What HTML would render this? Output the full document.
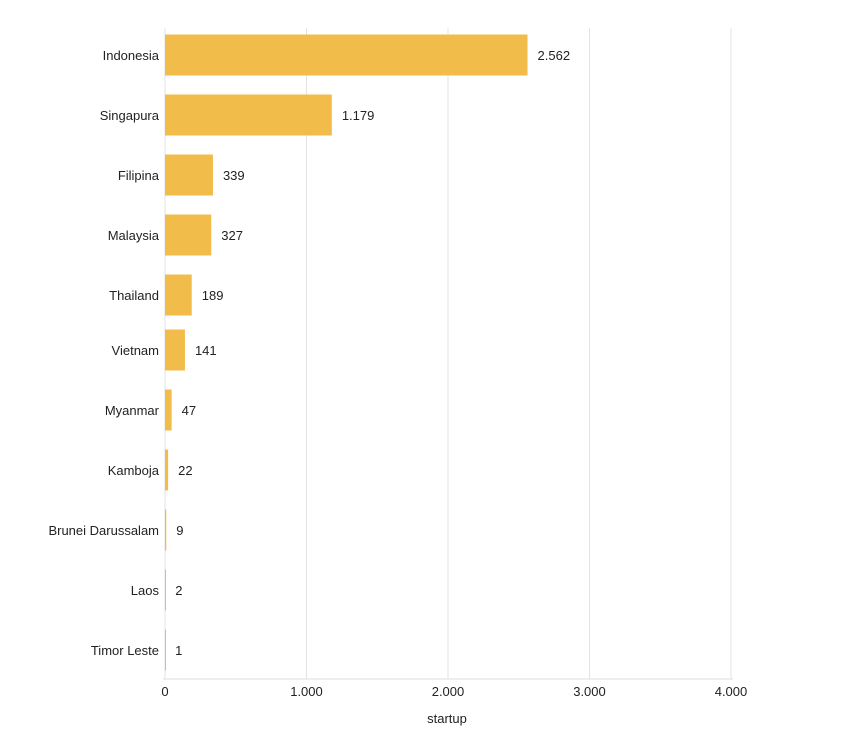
<!DOCTYPE html>
<html><head><meta charset="utf-8"><style>
body{margin:0;background:#fff;}
svg{display:block;font-family:"Liberation Sans",sans-serif;}
</style></head><body>
<svg id="chart" width="849" height="741" viewBox="0 0 849 741"></svg>
<script>
const categories=["Indonesia","Singapura","Filipina","Malaysia","Thailand","Vietnam","Myanmar","Kamboja","Brunei Darussalam","Laos","Timor Leste"];
const values=[2562,1179,339,327,189,141,47,22,9,2,1];
const valueLabels=["2.562","1.179","339","327","189","141","47","22","9","2","1"];
const ticks=[0,1000,2000,3000,4000];
const tickLabels=["0","1.000","2.000","3.000","4.000"];
const NS="http://www.w3.org/2000/svg";
const svg=document.getElementById('chart');
const x0=165,x1=731;
const xs=v=>x0+(v/4000)*(x1-x0);
const yc=i=>55+60*i-(i>=5?5:0);
function mk(t,a){const e=document.createElementNS(NS,t);for(const k in a)e.setAttribute(k,a[k]);svg.appendChild(e);return e;}
ticks.forEach((t,i)=>{
  const g=mk('line',{x1:xs(t),x2:xs(t),y1:28,y2:679,stroke:'#e3e3e3','stroke-width':1});
  
  
  const tl=mk('text',{x:xs(t),y:696,'text-anchor':'middle','font-size':13,fill:'#222'});
  tl.textContent=tickLabels[i];
  
  
});
const ax=mk('line',{x1:x0-2,x2:x1+2,y1:679,y2:679,stroke:'#ddd','stroke-width':1});


const at=mk('text',{x:(x0+x1)/2-1,y:723,'text-anchor':'middle','font-size':13,fill:'#222'});
at.textContent='startup';


categories.forEach((c,i)=>{
  const y=yc(i);
  const b=mk('rect',{x:x0,y:y-20.5,width:Math.max(1,xs(values[i])-x0),height:41,fill:'#f2bc4b'});
  
  
  const l=mk('text',{x:159,y:y+5,'text-anchor':'end','font-size':13,fill:'#222'});
  l.textContent=c;
  
  
  const v=mk('text',{x:Math.max(xs(values[i]),x0)+10,y:y+5,'font-size':13,fill:'#222'});
  v.textContent=valueLabels[i];
  
  
});
</script>
</body></html>
